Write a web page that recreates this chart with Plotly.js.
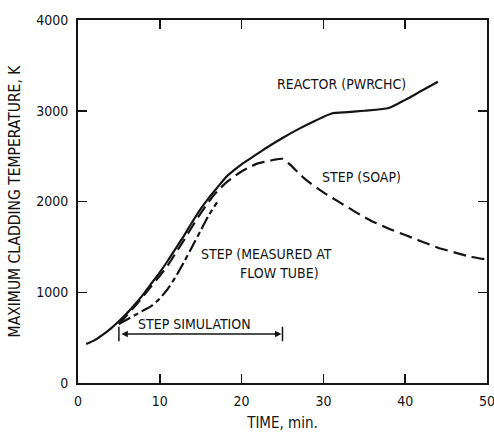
<!DOCTYPE html>
<html>
<head>
<meta charset="utf-8">
<script src="https://cdn.plot.ly/plotly-3.0.1.min.js"></script>
<style>html,body{margin:0;padding:0;background:#fff;}#chart{width:494px;height:432px;}</style>
</head>
<body>
<div id="chart"></div>
<script>
// Reactor (PWRCHC) - solid
var reactorTime = [1, 2, 3, 4, 5, 6, 7, 8, 9, 10, 11, 12, 13, 14, 15, 16, 17, 18, 19, 20, 21, 22, 23, 25, 27, 29, 31, 33, 35, 38, 40, 42, 44];
var reactorTemp = [430, 470, 530, 600, 680, 770, 870, 980, 1100, 1220, 1350, 1490, 1630, 1780, 1920, 2040, 2150, 2260, 2340, 2410, 2470, 2530, 2590, 2700, 2800, 2890, 2970, 2985, 3000, 3030, 3120, 3220, 3320];
// Step (SOAP) - dashed
var soapTime = [5, 6, 7, 8, 9, 10, 11, 12, 13, 14, 15, 16, 17, 18, 19, 20, 21, 22, 23, 24, 25, 26, 27, 28, 30, 32, 34, 36, 38, 40, 42, 44, 46, 48, 50];
var soapTemp = [650, 750, 850, 960, 1070, 1180, 1300, 1440, 1580, 1730, 1870, 2000, 2110, 2200, 2270, 2330, 2380, 2420, 2440, 2460, 2470, 2400, 2310, 2230, 2100, 1990, 1880, 1780, 1700, 1630, 1560, 1490, 1440, 1390, 1360];
// Step (measured at flow tube) - dashed
var tubeTime = [5, 6, 7, 8, 9, 10, 11, 12, 13, 14, 15, 16, 17];
var tubeTemp = [650, 700, 750, 800, 850, 930, 1040, 1180, 1340, 1510, 1680, 1850, 1990];
// Step simulation interval
var stepSimRange = [5, 25];
var stepSimLevel = 540;

var xTicks = [0, 10, 20, 30, 40, 50];
var yTicks = [0, 1000, 2000, 3000, 4000];

var ink = '#141414';
var fontFam = '"DejaVu Sans Condensed", "DejaVu Sans", sans-serif';

var traces = [
  {x: reactorTime, y: reactorTemp, mode: 'lines', line: {color: ink, width: 2.2, shape: 'spline', smoothing: 0.6}, name: 'REACTOR (PWRCHC)', showlegend: false},
  {x: soapTime, y: soapTemp, mode: 'lines', line: {color: ink, width: 2.2, dash: '13px,6px', shape: 'spline', smoothing: 0.5}, name: 'STEP (SOAP)', showlegend: false},
  {x: tubeTime, y: tubeTemp, mode: 'lines', line: {color: ink, width: 2.2, dash: '13px,4px,5px,4px', shape: 'spline', smoothing: 0.6}, name: 'STEP (MEASURED AT FLOW TUBE)', showlegend: false}
];

var bracketH = 80;
var shapes = [
  {type: 'line', xref: 'x', yref: 'y', x0: stepSimRange[0], x1: stepSimRange[0], y0: stepSimLevel - bracketH, y1: stepSimLevel + bracketH, line: {color: ink, width: 1.5}},
  {type: 'line', xref: 'x', yref: 'y', x0: stepSimRange[1], x1: stepSimRange[1], y0: stepSimLevel - bracketH, y1: stepSimLevel + bracketH, line: {color: ink, width: 1.5}}
];

var annFont = {family: fontFam, size: 14, color: ink};
var annotations = [
  {x: stepSimRange[1], y: stepSimLevel, ax: stepSimRange[0], ay: stepSimLevel, xref: 'x', yref: 'y', axref: 'x', ayref: 'y', text: '', showarrow: true, arrowside: 'end+start', arrowhead: 2, arrowsize: 1, arrowwidth: 1.3, arrowcolor: ink, standoff: 1, startstandoff: 1},
  {x: 14.2, y: 650, xref: 'x', yref: 'y', text: 'STEP SIMULATION', showarrow: false, font: annFont},
  {x: 32.2, y: 3290, xref: 'x', yref: 'y', text: 'REACTOR (PWRCHC)', showarrow: false, font: annFont},
  {x: 34.6, y: 2265, xref: 'x', yref: 'y', text: 'STEP (SOAP)', showarrow: false, font: annFont},
  {x: 23.0, y: 1420, xref: 'x', yref: 'y', text: 'STEP (MEASURED AT', showarrow: false, font: annFont},
  {x: 24.6, y: 1215, xref: 'x', yref: 'y', text: 'FLOW TUBE)', showarrow: false, font: annFont}
];

var axisCommon = {
  showgrid: false, zeroline: false, showline: true, linecolor: ink, linewidth: 2, mirror: 'ticks',
  ticks: 'inside', ticklen: 9, tickwidth: 1.5, tickcolor: ink,
  tickfont: {family: fontFam, size: 14, color: ink}, ticklabeloverflow: 'allow'
};

var layout = {
  width: 494, height: 432,
  margin: {l: 78, r: 7, t: 20, b: 49},
  paper_bgcolor: '#fff', plot_bgcolor: '#fff',
  font: {family: fontFam, color: ink},
  xaxis: Object.assign({}, axisCommon, {range: [0, 50], tickvals: xTicks, ticktext: xTicks.map(String), ticklabelstandoff: 4,
    title: {text: 'TIME, min.', font: {family: fontFam, size: 15, color: ink}, standoff: 13}}),
  yaxis: Object.assign({}, axisCommon, {range: [0, 4000], tickvals: yTicks, ticktext: yTicks.map(String), ticklabelstandoff: 5,
    title: {text: 'MAXIMUM CLADDING TEMPERATURE, K', font: {family: fontFam, size: 15.5, color: ink}, standoff: 12}}),
  shapes: shapes,
  annotations: annotations,
  showlegend: false
};

Plotly.newPlot('chart', traces, layout, {staticPlot: true, displayModeBar: false});
</script>
</body>
</html>
